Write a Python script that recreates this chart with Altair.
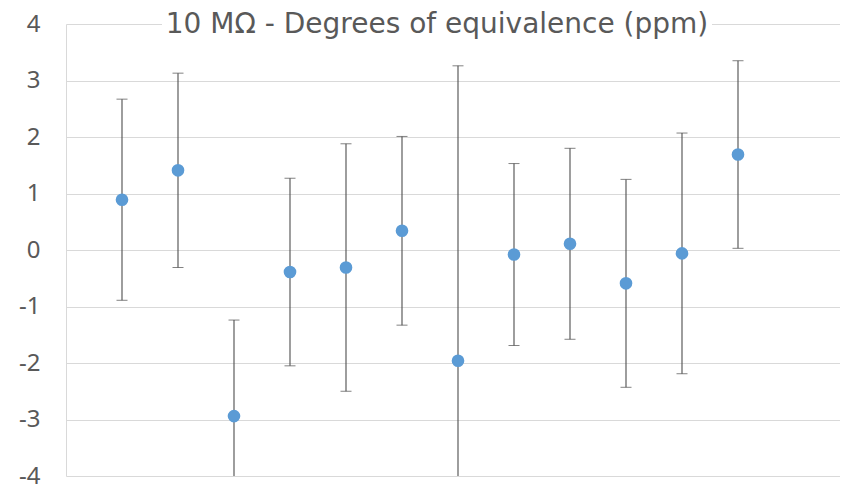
import altair as alt
import pandas as pd

TITLE = "10 MΩ - Degrees of equivalence (ppm)"
POSITIONS = [1, 2, 3, 4, 5, 6, 7, 8, 9, 10, 11, 12]
VALUES = [0.89, 1.41, -2.94, -0.39, -0.31, 0.34, -1.96, -0.08, 0.11, -0.59, -0.06, 1.69]
UNC = [1.78, 1.72, 1.70, 1.66, 2.19, 1.67, 5.22, 1.61, 1.69, 1.84, 2.13, 1.66]
Y_TICKS = [-4, -3, -2, -1, 0, 1, 2, 3, 4]

df = pd.DataFrame({
    "pos": POSITIONS,
    "value": VALUES,
    "lo": [v - u for v, u in zip(VALUES, UNC)],
    "hi": [v + u for v, u in zip(VALUES, UNC)],
})

PLOT_W = 774
xs = alt.Scale(domain=[0, PLOT_W / 56.0], nice=False, zero=False)
ys = alt.Scale(domain=[-4, 4], nice=False, zero=False)

base = alt.Chart(df)

x_enc = alt.X("pos:Q", scale=xs, axis=None)
BAR_COLOR = "#4d4d4d"

bars = base.mark_rule(color=BAR_COLOR, strokeWidth=1.1, clip=True).encode(
    x=x_enc,
    y=alt.Y("lo:Q", scale=ys, axis=alt.Axis(
        values=Y_TICKS, labelExpr="toString(datum.value)", title=None,
        ticks=False, grid=True,
        gridColor="#d9d9d9", gridWidth=1, domainColor="#d9d9d9",
        labelFont="Noto Sans", labelFontSize=24, labelColor="#595959",
        labelPadding=26, labelFlush=False)),
    y2="hi:Q",
)

cap_hi = base.mark_tick(color=BAR_COLOR, thickness=1, size=11, clip=True,
                        orient="horizontal").encode(
    x=x_enc, y=alt.Y("hi:Q", scale=ys))
cap_lo = base.mark_tick(color=BAR_COLOR, thickness=1, size=11, clip=True,
                        orient="horizontal").encode(
    x=x_enc, y=alt.Y("lo:Q", scale=ys))

dots = base.mark_circle(color="#5B9BD5", size=160, opacity=1).encode(
    x=x_enc, y=alt.Y("value:Q", scale=ys))

title_bg = base.mark_rect(color="white").encode(
    x=alt.value(96), x2=alt.value(646), y=alt.value(-4), y2=alt.value(4))

title = alt.Chart(pd.DataFrame({"t": [TITLE]})).mark_text(
    font="DejaVu Sans", fontSize=28, color="#595959", align="center",
    baseline="alphabetic").encode(
    text="t:N", x=alt.value(371), y=alt.value(9))

chart = alt.layer(bars, cap_hi, cap_lo, dots, title_bg, title).properties(
    width=PLOT_W, height=452,
    autosize=alt.AutoSizeParams(type="none"),
    padding={"left": 58, "top": 16, "right": 0, "bottom": 9},
    background="white",
).configure_view(stroke=None)

chart.save("out.html", embed_options={"renderer": "svg", "actions": False})
